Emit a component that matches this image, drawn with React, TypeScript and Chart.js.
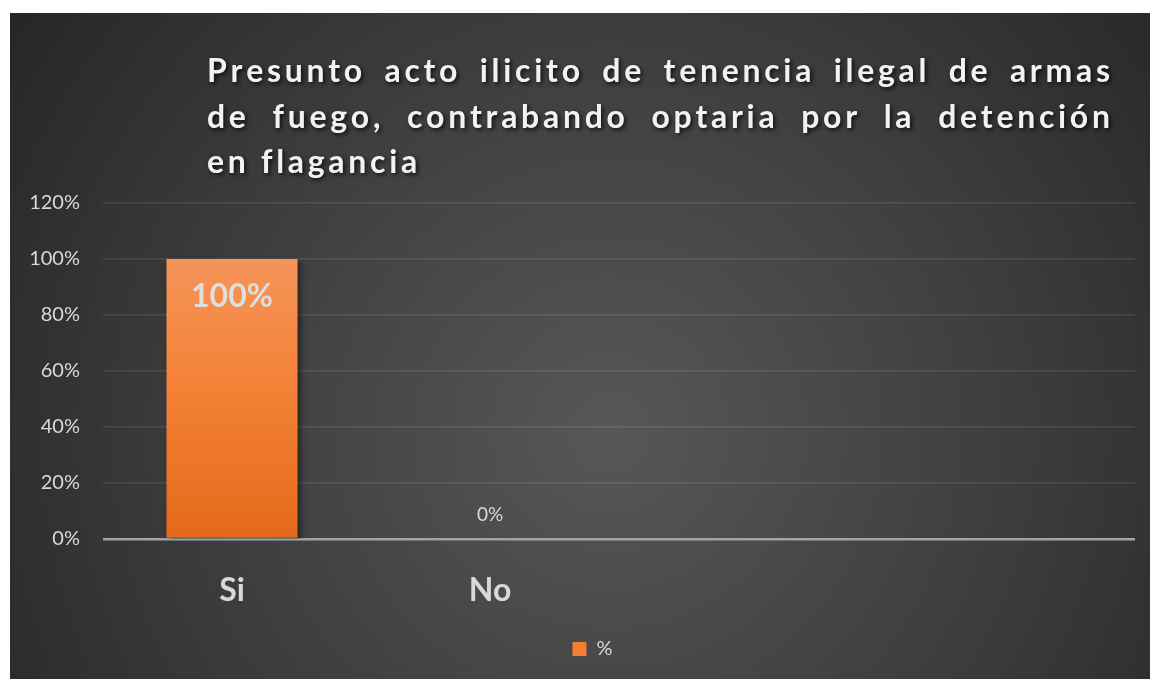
import React, { useEffect, useRef } from "react";
import { Chart, registerables } from "chart.js";

Chart.register(...registerables);

const titleLines = [
  "Presunto acto ilicito de tenencia ilegal de armas",
  "de fuego, contrabando optaria por la detención",
  "en flagancia",
];
const categories = ["Si", "No", "", ""];
const seriesLabel = "%";
const values: (number | null)[] = [100, 0, null, null];
const yMax = 120;
const yStep = 20;

const W = 1140;
const H = 666;

const bgPlugin = {
  id: "bg",
  beforeDraw(chart: any) {
    const ctx = chart.ctx;
    ctx.save();
    const g = ctx.createRadialGradient(600, 420, 0, 600, 420, 760);
    g.addColorStop(0, "#575757");
    g.addColorStop(0.55, "#3c3c3c");
    g.addColorStop(1, "#242424");
    ctx.fillStyle = g;
    ctx.fillRect(0, 0, W, H);
    ctx.restore();
  },
};

const legendShift = {
  id: "legendShift",
  afterLayout(chart: any) {
    if (chart.legend) {
      chart.legend.left += 20;
      chart.legend.right += 20;
    }
  },
};

const titlePlugin = {
  id: "justTitle",
  afterDraw(chart: any) {
    const ctx = chart.ctx;
    ctx.save();
    ctx.font = "bold 32px Lato";
    ctx.fillStyle = "#f2f2f2";
    ctx.shadowColor = "rgba(0,0,0,0.75)";
    ctx.shadowBlur = 4;
    ctx.shadowOffsetX = 2;
    ctx.shadowOffsetY = 2;
    ctx.textBaseline = "alphabetic";
    const ls = 3.7;
    const x0 = 197;
    const x1 = 1100;
    const baselines = [69, 115, 160];
    const wordW = (w: string) => {
      let s = 0;
      for (const c of w) s += ctx.measureText(c).width + ls;
      return s - ls;
    };
    const drawWord = (w: string, x: number, y: number) => {
      let cx = x;
      for (const c of w) {
        ctx.fillText(c, cx, y);
        cx += ctx.measureText(c).width + ls;
      }
    };
    titleLines.forEach((line, i) => {
      const words = line.split(" ");
      const widths = words.map(wordW);
      const total = widths.reduce((a, b) => a + b, 0);
      const last = i === titleLines.length - 1;
      const gap = last || words.length < 2
        ? ctx.measureText(" ").width + 2 * ls
        : (x1 - x0 - total) / (words.length - 1);
      let x = x0;
      words.forEach((w, k) => {
        drawWord(w, x, baselines[i]);
        x += widths[k] + gap;
      });
    });
    ctx.restore();
  },
};

const shadowPlugin = {
  id: "barShadow",
  beforeDatasetDraw(chart: any) {
    const ctx = chart.ctx;
    ctx.save();
    ctx.shadowColor = "rgba(0,0,0,0.45)";
    ctx.shadowBlur = 6;
    ctx.shadowOffsetX = 3;
    ctx.shadowOffsetY = 2;
  },
  afterDatasetDraw(chart: any) {
    chart.ctx.restore();
  },
};

const labelPlugin = {
  id: "dataLabels",
  afterDatasetsDraw(chart: any) {
    const ctx = chart.ctx;
    const meta = chart.getDatasetMeta(0);
    ctx.save();
    ctx.textAlign = "center";
    ctx.textBaseline = "middle";
    meta.data.forEach((bar: any, i: number) => {
      const v = values[i];
      if (v === null || v === undefined) return;
      if (v > 0) {
        ctx.font = "bold 32px Lato";
        ctx.fillStyle = "#dedede";
        ctx.fillText(v + "%", bar.x, bar.y + 38);
      } else {
        ctx.font = "19px Lato";
        ctx.fillStyle = "#d9d9d9";
        ctx.fillText(v + "%", bar.x, bar.y - 24);
      }
    });
    ctx.restore();
  },
};

export default function App() {
  const ref = useRef<HTMLCanvasElement>(null);
  useEffect(() => {
    if (!ref.current) return;
    const chart = new Chart(ref.current, {
      type: "bar",
      data: {
        labels: categories,
        datasets: [
          {
            label: seriesLabel,
            data: values as any,
            backgroundColor: (c: any) => {
              const area = c.chart.chartArea;
              if (!area) return "#f07f2e";
              const g = c.chart.ctx.createLinearGradient(0, area.top, 0, area.bottom);
              g.addColorStop(0, "#f59c68");
              g.addColorStop(0.5, "#f5843a");
              g.addColorStop(1, "#e4691a");
              return g;
            },
            borderWidth: 0,
            categoryPercentage: 1,
            barPercentage: 0.508,
          },
        ],
      },
      options: {
        responsive: false,
        animation: false,
        layout: { padding: { top: 190, right: 15, bottom: 10, left: 0 } },
        plugins: {
          title: { display: false },
          tooltip: { enabled: false },
          legend: {
            display: true,
            position: "bottom",
            labels: {
              color: "#d9d9d9",
              font: { family: "Lato", size: 20 },
              boxWidth: 14,
              boxHeight: 14,
              padding: 10,
              generateLabels: () => [
                {
                  text: seriesLabel,
                  fillStyle: "#f27f30",
                  strokeStyle: "#f27f30",
                  lineWidth: 0,
                  fontColor: "#d9d9d9",
                  datasetIndex: 0,
                } as any,
              ],
            },
          },
        },
        scales: {
          x: {
            grid: { display: false, drawTicks: false },
            border: { display: false },
            ticks: {
              color: "#d9d9d9",
              font: { family: "Lato", size: 32, weight: "bold" },
              padding: 32,
              maxRotation: 0,
            },
            afterFit: (s: any) => {
              s.height = 90;
            },
          },
          y: {
            min: 0,
            max: yMax,
            ticks: {
              stepSize: yStep,
              color: "#d9d9d9",
              font: { family: "Lato", size: 20 },
              padding: 23,
              callback: (v: any) => v + "%",
            },
            grid: {
              drawTicks: false,
              color: (c: any) => (c.tick && c.tick.value === 0 ? "#a3a3a3" : "rgba(255,255,255,0.11)"),
              lineWidth: (c: any) => (c.tick && c.tick.value === 0 ? 2.5 : 1.5),
            },
            border: { display: false },
            afterFit: (s: any) => {
              s.width = 93;
            },
          },
        },
      },
      plugins: [bgPlugin, legendShift, shadowPlugin, labelPlugin, titlePlugin],
    });
    return () => chart.destroy();
  }, []);
  return (
    <div style={{ position: "absolute", left: 10, top: 13, width: W, height: H }}>
      <canvas ref={ref} width={W} height={H} style={{ width: W, height: H, display: "block" }} />
    </div>
  );
}
